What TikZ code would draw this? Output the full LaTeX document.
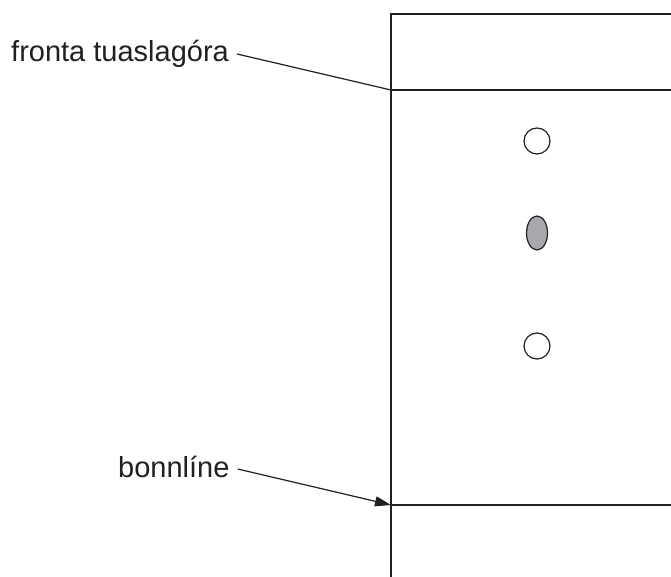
\documentclass[tikz,border=0pt]{standalone}
\usepackage{fontspec}
\setmainfont{Liberation Sans}
\usetikzlibrary{arrows.meta,shapes.geometric}
\definecolor{ink}{HTML}{231F20}
\definecolor{spotgrey}{HTML}{A7A9AC}
\begin{document}
\begin{tikzpicture}[x=1pt,y=-1pt,
  wall/.style={draw=ink,line width=1.4pt},
  leader/.style={draw=ink,line width=1.2pt},
  lbl/.style={inner sep=0pt,font=\fontsize{29}{34}\selectfont,text=ink},
  spot/.style={draw=ink,line width=1.2pt,fill=white}]
\useasboundingbox (0,0) rectangle (671,577);
\clip (0,0) rectangle (671,577);

% the plate outline and its two horizontal lines
\draw[wall] (391,580) -- (391,14) -- (675,14);
\draw[wall] (391,90) -- (675,90);
\draw[wall] (391,505) -- (675,505);
\coordinate (front) at (391,90);
\coordinate (base) at (391,505);

% spots
\node[spot,circle,minimum size=26pt,inner sep=0pt] (s1) at (537,141) {};
\node[spot,ellipse,fill=spotgrey,minimum width=21pt,minimum height=34pt,inner sep=0pt] (s2) at (537,233) {};
\node[spot,circle,minimum size=26pt,inner sep=0pt] (s3) at (537,346) {};

% labels
\node[lbl,anchor=base west] (l1) at (11,62) {fronta tuaslagóra};
\node[lbl,anchor=base west] (l2) at (118,477) {bonnlíne};

\draw[leader] ([xshift=8pt,yshift=8pt]l1.base east) -- (front);
\draw[leader,-{Triangle[length=16pt,width=10pt]}] ([xshift=8pt,yshift=8pt]l2.base east) -- (base);
\end{tikzpicture}
\end{document}
